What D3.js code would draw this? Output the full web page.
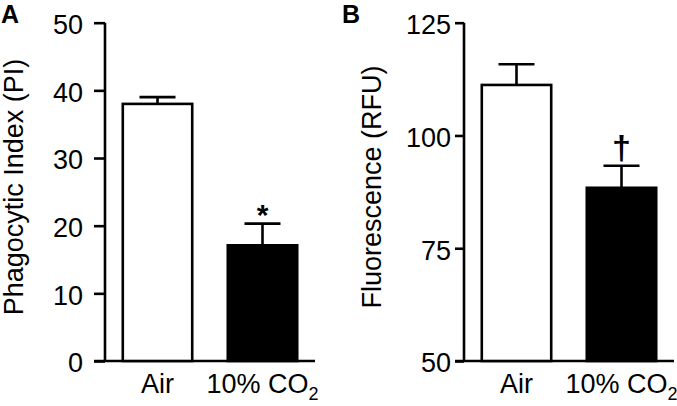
<!DOCTYPE html>
<html>
<head>
	<meta charset="utf-8">
	<title>Phagocytosis under CO2</title>
	<style>
		body { margin: 0; background: #fff; }
		svg text { font-family: "Liberation Sans", Arial, sans-serif; fill: #000; }
	</style>
</head>
<body>
	<svg id="chart" width="677" height="406"></svg>
	<script src="https://cdn.jsdelivr.net/npm/d3@7"></script>
	<script>
		// values
		var groups = ["Air", "10% CO2"];
		var piMean = [38.0, 17.1];
		var piErr = [1.0, 3.2];
		var piTicks = [0, 10, 20, 30, 40, 50];
		var rfuMean = [111.2, 88.4];
		var rfuErr = [4.6, 4.9];
		var rfuTicks = [50, 75, 100, 125];
		var piSig = ["", "*"];
		var rfuSig = ["", "\u2020"];

		var svg = d3.select('#chart');
		var lw = 2.6;

		function drawPanel(opt) {
			var g = svg.append('g');
			var y = d3.scaleLinear().domain(opt.domain).range([361, 22.7]);
			var x = d3.scaleBand().domain(groups).range([opt.axisX, opt.axisX + 210])
				.paddingInner(0.314).paddingOuter(0.157);

			// y axis
			var yAxis = d3.axisLeft(y).tickValues(opt.ticks).tickSize(opt.tickLen)
				.tickPadding(opt.tickPad).tickSizeOuter(0);
			var ya = g.append('g').attr('transform', 'translate(' + opt.axisX + ',0)').call(yAxis);
			ya.select('.domain').attr('stroke-width', lw).attr('d', 'M0,' + y.range()[0] + 'V' + y.range()[1]);
			ya.selectAll('.tick line').attr('stroke-width', lw);
			ya.selectAll('.tick text').style('font-size', '27px').attr('dy', '0.40em');

			// baseline
			g.append('line')
				.attr('x1', opt.axisX - opt.tickLen).attr('x2', opt.axisX + 210)
				.attr('y1', y(opt.domain[0])).attr('y2', y(opt.domain[0]))
				.attr('stroke', '#000').attr('stroke-width', lw);

			// error bars (upper only)
			var idx = d3.range(groups.length);
			g.selectAll('.err').data(idx).enter().append('line')
				.attr('x1', function (i) { return x(groups[i]) + x.bandwidth() / 2; })
				.attr('x2', function (i) { return x(groups[i]) + x.bandwidth() / 2; })
				.attr('y1', function (i) { return y(opt.mean[i]); })
				.attr('y2', function (i) { return y(opt.mean[i] + opt.err[i]); })
				.attr('stroke', '#000').attr('stroke-width', lw);
			g.selectAll('.cap').data(idx).enter().append('line')
				.attr('x1', function (i) { return x(groups[i]) + x.bandwidth() / 4; })
				.attr('x2', function (i) { return x(groups[i]) + x.bandwidth() * 3 / 4; })
				.attr('y1', function (i) { return y(opt.mean[i] + opt.err[i]); })
				.attr('y2', function (i) { return y(opt.mean[i] + opt.err[i]); })
				.attr('stroke', '#000').attr('stroke-width', lw);

			// bars
			g.selectAll('.bar').data(idx).enter().append('rect')
				.attr('x', function (i) { return x(groups[i]) + lw / 2; })
				.attr('width', x.bandwidth() - lw)
				.attr('y', function (i) { return y(opt.mean[i]); })
				.attr('height', function (i) { return y(opt.domain[0]) - y(opt.mean[i]); })
				.attr('fill', function (i) { return i === 0 ? '#fff' : '#000'; })
				.attr('stroke', '#000').attr('stroke-width', lw);

			// significance marks
			g.selectAll('.sig').data(idx).enter().append('text')
				.attr('x', function (i) { return x(groups[i]) + x.bandwidth() / 2; })
				.attr('y', function (i) { return y(opt.mean[i] + opt.err[i]) + opt.sigDy; })
				.attr('text-anchor', 'middle')
				.style('font-size', opt.sigSize + 'px').style('font-weight', 'bold')
				.text(function (i) { return opt.sig[i]; });

			// category labels
			var lab = g.selectAll('.lab').data(idx).enter().append('text')
				.attr('x', function (i) { return x(groups[i]) + x.bandwidth() / 2; })
				.attr('y', 393)
				.attr('text-anchor', 'middle')
				.style('font-size', '27px');
			lab.each(function (i) {
				var t = d3.select(this);
				if (groups[i] === '10% CO2') {
					t.append('tspan').text('10% CO');
					t.append('tspan').attr('dy', 7).style('font-size', '18px').text('2');
				} else {
					t.text(groups[i]);
				}
			});

			// axis title
			g.append('text')
				.attr('transform', 'translate(' + opt.titleX + ',187) rotate(-90)')
				.attr('text-anchor', 'middle')
				.style('font-size', '27px')
				.text(opt.title);

			// panel letter
			g.append('text')
				.attr('x', opt.letterX).attr('y', 23)
				.style('font-size', '25px').style('font-weight', 'bold')
				.text(opt.letter);
		}

		drawPanel({
			domain: [0, 50], ticks: piTicks, mean: piMean, err: piErr, sig: piSig,
			axisX: 105, tickLen: 11, tickPad: 11, sigDy: 1, sigSize: 30,
			title: 'Phagocytic Index (PI)', titleX: 22.5, letter: 'A', letterX: 1
		});
		drawPanel({
			domain: [50, 125], ticks: rfuTicks, mean: rfuMean, err: rfuErr, sig: rfuSig,
			axisX: 464, tickLen: 9, tickPad: 4, sigDy: -7, sigSize: 34,
			title: 'Fluorescence (RFU)', titleX: 381, letter: 'B', letterX: 342
		});
	</script>
</body>
</html>
